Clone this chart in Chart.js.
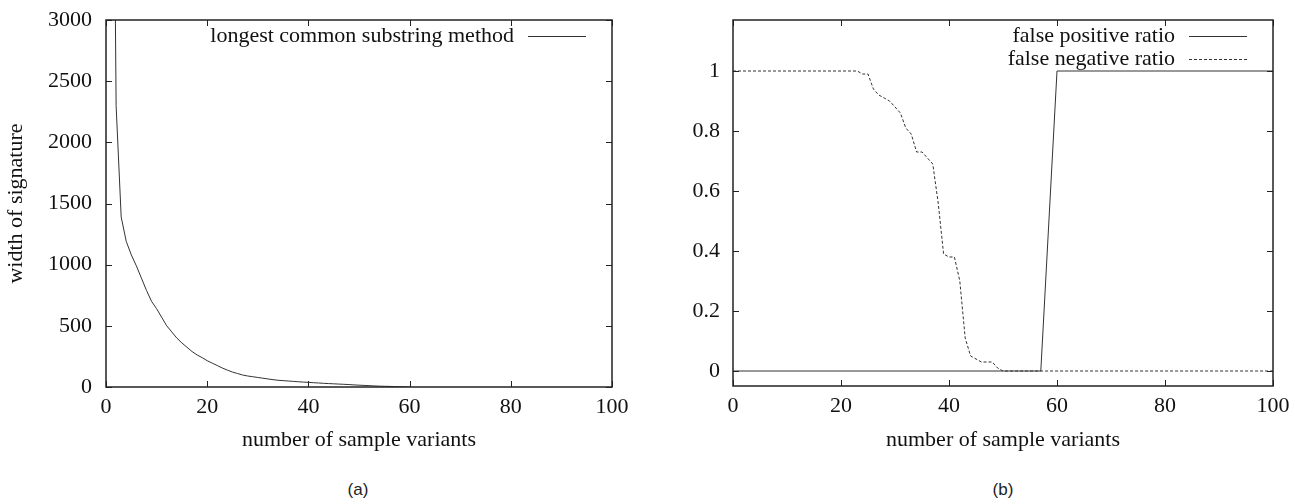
<!DOCTYPE html>
<html>
<head>
<meta charset="utf-8">
<script src="https://cdn.jsdelivr.net/npm/chart.js@4/dist/chart.umd.min.js"></script>
<style>
  body { margin: 0; background: #fff; }
  #wrap { position: relative; width: 1295px; height: 504px; }
  canvas { position: absolute; top: 0; }
  .cap { position: absolute; top: 480px; font: 17px "Liberation Sans", Arial, sans-serif; color: #222; transform: translateX(-50%); }
</style>
</head>
<body>
<div id="wrap">
  <canvas id="chart-a" width="650" height="460" style="left:0"></canvas>
  <canvas id="chart-b" width="645" height="460" style="left:650px"></canvas>
  <div class="cap" style="left:358px">(a)</div>
  <div class="cap" style="left:1003px">(b)</div>
</div>
<script>
  // (a) width of signature vs. number of sample variants
  var lcsX = [1, 2, 3, 4, 5, 6, 7, 8, 9, 10, 11, 12, 13, 14, 15, 16, 17, 18, 19, 20,
              21, 22, 23, 24, 25, 26, 27, 28, 29, 30, 31, 32, 33, 34, 35, 36, 37, 38, 39, 40,
              41, 42, 43, 44, 45, 46, 47, 48, 49, 50, 51, 52, 53, 54, 55, 56, 57, 58, 59, 60];
  var lcsWidth = [7300, 2300, 1390, 1190, 1080, 990, 890, 790, 700, 640, 570, 500, 450, 400, 360, 325, 290, 262, 240, 215,
                  195, 175, 155, 138, 122, 110, 98, 90, 84, 78, 72, 66, 60, 55, 52, 49, 46, 43, 40, 38,
                  35, 33, 30, 28, 26, 24, 22, 20, 17, 15, 13, 11, 9, 7, 6, 5, 3, 2, 1, 0];
  var ticksA_x = [0, 20, 40, 60, 80, 100];
  var ticksA_y = [0, 500, 1000, 1500, 2000, 2500, 3000];

  // (b) false positive / false negative ratio
  var fpX = [0, 57, 60, 100];
  var fpRatio = [0, 0, 1, 1];
  var fnX = [0, 23, 24, 25, 26, 27, 28, 29, 30, 31, 32, 33, 34, 35, 36, 37, 38, 39, 40,
             41, 42, 43, 44, 45, 46, 47, 48, 49, 50, 100];
  var fnRatio = [1, 1, 0.99, 0.99, 0.94, 0.92, 0.91, 0.90, 0.88, 0.86, 0.81, 0.79, 0.73, 0.73, 0.71, 0.69, 0.56, 0.39, 0.38,
                 0.38, 0.30, 0.11, 0.05, 0.04, 0.03, 0.03, 0.03, 0.01, 0, 0];
  var ticksB_x = [0, 20, 40, 60, 80, 100];
  var ticksB_y = [0, 0.2, 0.4, 0.6, 0.8, 1];

  var serif = '"Liberation Serif", "Times New Roman", serif';
  var ink = '#222';

  function pts(xs, ys) {
    return xs.map(function (v, i) { return { x: v, y: ys[i] }; });
  }

  // gnuplot style frame: border, inward ticks on all sides, key inside top right
  var frame = {
    id: 'frame',
    afterDatasetsDraw: function (chart) {
      var ctx = chart.ctx, a = chart.chartArea, x = chart.scales.x, y = chart.scales.y;
      ctx.save();
      ctx.strokeStyle = ink;
      ctx.lineWidth = 1;
      ctx.beginPath();
      x.ticks.forEach(function (t) {
        var px = Math.round(x.getPixelForValue(t.value)) + 0.5;
        ctx.moveTo(px, a.bottom); ctx.lineTo(px, a.bottom - 6);
        ctx.moveTo(px, a.top); ctx.lineTo(px, a.top + 6);
      });
      y.ticks.forEach(function (t) {
        var py = Math.round(y.getPixelForValue(t.value)) + 0.5;
        ctx.moveTo(a.left, py); ctx.lineTo(a.left + 6, py);
        ctx.moveTo(a.right, py); ctx.lineTo(a.right - 6, py);
      });
      ctx.stroke();
      ctx.lineWidth = 1.5;
      ctx.strokeRect(a.left, a.top, a.right - a.left, a.bottom - a.top);

      ctx.font = '22px ' + serif;
      ctx.fillStyle = '#111';
      ctx.textAlign = 'right';
      ctx.textBaseline = 'middle';
      chart.data.datasets.forEach(function (ds, i) {
        var ly = a.top + 16 + i * 23;
        ctx.fillText(ds.label, a.right - 98, ly);
        ctx.beginPath();
        ctx.lineWidth = 1;
        ctx.strokeStyle = ds.borderColor;
        ctx.setLineDash(ds.borderDash || []);
        ctx.moveTo(a.right - 84, Math.round(ly) + 0.5);
        ctx.lineTo(a.right - 26, Math.round(ly) + 0.5);
        ctx.stroke();
      });
      ctx.restore();
    }
  };

  function axis(values, size, extra) {
    var o = {
      type: 'linear',
      grid: { display: false, drawTicks: false },
      border: { display: false },
      afterBuildTicks: function (s) { s.ticks = values.map(function (v) { return { value: v }; }); },
      afterFit: function (s) {
        if (s.isHorizontal()) s.height = size; else s.width = size;
        s.paddingTop = 0; s.paddingBottom = 0; s.paddingLeft = 0; s.paddingRight = 0;
      },
      ticks: {
        color: '#111',
        font: { family: serif, size: 22 },
        callback: function (v) { return String(v); }
      }
    };
    for (var k in extra) o[k] = extra[k];
    return o;
  }

  function titleOpts(text, pad) {
    return { display: true, text: text, color: '#111', font: { family: serif, size: 22 }, padding: pad };
  }

  var aCtx = document.getElementById('chart-a').getContext('2d');
  var aChart = new Chart(aCtx, {
    type: 'line',
    data: {
      datasets: [{
        label: 'longest common substring method',
        data: pts(lcsX, lcsWidth),
        borderColor: '#333',
        borderWidth: 1,
        pointRadius: 0,
        tension: 0
      }]
    },
    options: {
      responsive: false,
      animation: false,
      events: [],
      layout: { padding: { top: 20, right: 38, left: 0, bottom: 0 } },
      plugins: { legend: { display: false }, tooltip: { enabled: false } },
      scales: {
        x: axis(ticksA_x, 73, {
          min: 0, max: 100,
          title: titleOpts('number of sample variants', { top: 0, bottom: 7 })
        }),
        y: axis(ticksA_y, 106, {
          min: 0, max: 3000,
          title: titleOpts('width of signature', { top: 3, bottom: 0 })
        })
      }
    },
    plugins: [frame]
  });
  aChart.options.scales.x.ticks.padding = 7;
  aChart.options.scales.y.ticks.padding = 14;
  aChart.update();

  var bCtx = document.getElementById('chart-b').getContext('2d');
  var bChart = new Chart(bCtx, {
    type: 'line',
    data: {
      datasets: [{
        label: 'false positive ratio',
        data: pts(fpX, fpRatio),
        borderColor: '#333',
        borderWidth: 1,
        pointRadius: 0,
        tension: 0
      }, {
        label: 'false negative ratio',
        data: pts(fnX, fnRatio),
        borderColor: '#333',
        borderWidth: 1,
        borderDash: [3, 2],
        pointRadius: 0,
        tension: 0
      }]
    },
    options: {
      responsive: false,
      animation: false,
      events: [],
      layout: { padding: { top: 20, right: 22, left: 0, bottom: 0 } },
      plugins: { legend: { display: false }, tooltip: { enabled: false } },
      scales: {
        x: axis(ticksB_x, 74, {
          min: 0, max: 100,
          title: titleOpts('number of sample variants', { top: 0, bottom: 7 })
        }),
        y: axis(ticksB_y, 83, {
          min: -0.05, max: 1.17
        })
      }
    },
    plugins: [frame]
  });
  bChart.options.scales.x.ticks.padding = 7;
  bChart.options.scales.y.ticks.padding = 13;
  bChart.update();
</script>
</body>
</html>
